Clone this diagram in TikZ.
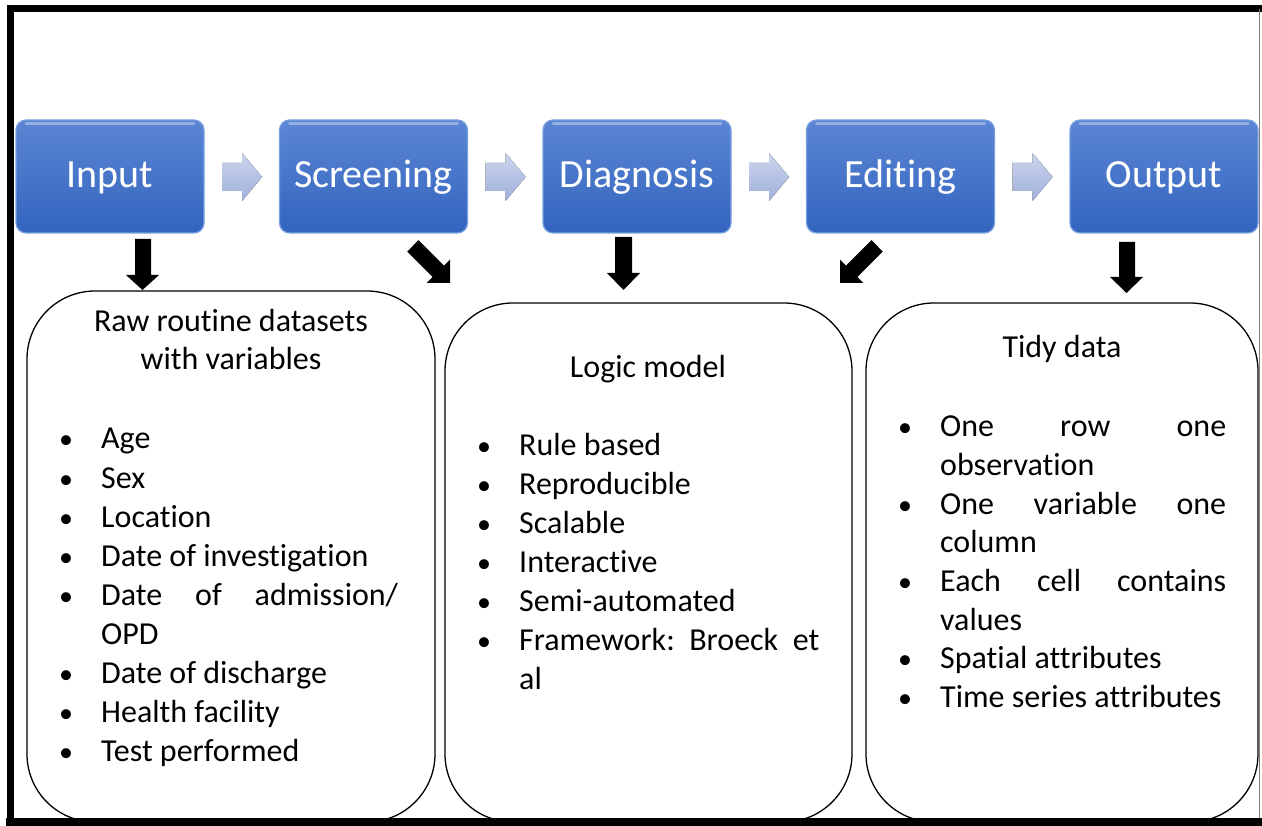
\documentclass[tikz,border=0pt]{standalone}
\usepackage{fontspec}
\setmainfont{Carlito}[Ligatures={NoCommon}]
\frenchspacing
\begin{document}
\begin{tikzpicture}[x=1pt,y=-1pt,
  stage/.style={rounded corners=10pt, top color=stagetop, bottom color=stagebot, draw=stageedge, line width=1.2pt},
  stagetext/.style={text=white, font=\fontsize{40}{48}\selectfont, anchor=base},
  chev/.style={top color=chevtop, bottom color=chevbot, draw=none},
  blk/.style={fill=black},
  panel/.style={draw=black, line width=1.3pt, rounded corners=68pt, fill=white},
  ttl/.style={font=\fontsize{32}{39}\selectfont, anchor=base, inner sep=0pt},
  btxt/.style={font=\fontsize{32}{39}\selectfont, anchor=base west, inner sep=0pt},
  bul/.style={font=\fontsize{28}{39}\selectfont, anchor=base, inner sep=0pt}]
\definecolor{stagetop}{RGB}{92,134,212}
\definecolor{stagebot}{RGB}{50,100,190}
\definecolor{stageedge}{RGB}{120,160,225}
\definecolor{chevtop}{RGB}{205,213,236}
\definecolor{chevbot}{RGB}{160,176,220}
\useasboundingbox (0,0) rectangle (1262,826);
\fill[white] (0,0) rectangle (1262,826);

% frame
\draw[line width=7pt] (10,830) -- (10,9) -- (1266,9);
\draw[gray, line width=1.2pt] (1259.5,9) -- (1259.5,818);

% stage boxes
\foreach \i/\x/\t in {1/16/Input,2/279.5/Screening,3/543/Diagnosis,4/806.5/Editing,5/1070/Output}{
  \draw[stage] (\x,120) rectangle ++(188,113);
  \draw[white, opacity=0.35, line width=3pt, line cap=round] (\x+10,124) -- (\x+178,124);
  \node[stagetext] (s\i) at (\x+94,188) {\t};
}
% chevrons
\foreach \c in {242, 505.5, 769, 1032.5}{
  \fill[chev] (\c-20,163) -- (\c,163) -- (\c,153) -- (\c+20,177) -- (\c,201) -- (\c,191) -- (\c-20,191) -- cycle;
}

% panels
\draw[panel] (27,291) rectangle (435,822);
\draw[panel] (445,303) rectangle (852,822);
\draw[panel] (866,303) rectangle (1258,822);
\fill (6,818) rectangle (1266,830);

% black arrows
\fill[blk] (135,239) -- (151,239) -- (151,275) -- (159,275) -- (142.5,290) -- (126,275) -- (135,275) -- cycle;
\fill[blk] (615,237) -- (632,237) -- (632,273) -- (640,273) -- (623.5,290) -- (607,273) -- (615,273) -- cycle;
\fill[blk] (1119,242) -- (1135,242) -- (1135,277) -- (1143,277) -- (1126.5,293) -- (1110,277) -- (1119,277) -- cycle;
\fill[blk] (418.5,240.2) -- (444,265.7) -- (450,259.7) -- (450,283) -- (426.7,283) -- (432.7,277) -- (407.2,251.6) -- cycle;
\fill[blk] (871.5,240.2) -- (846,265.7) -- (840,259.7) -- (840,283) -- (863.3,283) -- (857.3,277) -- (882.8,251.6) -- cycle;

% panel 1
\node[ttl] (p1t1) at (231,332) {Raw routine datasets};
\node[ttl] (p1t2) at (231,370) {with variables};
\foreach \n/\t [count=\k from 0] in {1/Age,2/Sex,3/Location,4/Date of investigation,5/{\makebox[297pt][s]{Date of admission/}},6/OPD,7/Date of discharge,8/Health facility,9/Test performed}{
  \ifnum\n=6\else\node[bul] (p1b\n) at (66,449+39*\k) {\textbullet};\fi
  \node[btxt] (p1x\n) at (101,449+39*\k) {\t};
}

% panel 2
\node[ttl] (p2t) at (648,378) {Logic model};
\foreach \n/\t [count=\k from 0] in {1/Rule based,2/Reproducible,3/Scalable,4/Interactive,5/Semi-automated,6/{\makebox[300pt][s]{Framework: Broeck et}},7/al}{
  \ifnum\n=7\else\node[bul] (p2b\n) at (484,455+39*\k) {\textbullet};\fi
  \node[btxt] (p2x\n) at (519,455+39*\k) {\t};
}

% panel 3
\node[ttl] (p3t) at (1062,358) {Tidy data};
\foreach \n/\t/\b [count=\k from 0] in {1/{\makebox[286pt][s]{One row one}}/1,2/observation/0,3/{\makebox[286pt][s]{One variable one}}/1,4/column/0,5/{\makebox[286pt][s]{Each cell contains}}/1,6/values/0,7/Spatial attributes/1,8/Time series attributes/1}{
  \ifnum\b=1\node[bul] (p3b\n) at (905,437+38.6*\k) {\textbullet};\fi
  \node[btxt] (p3x\n) at (940,437+38.6*\k) {\t};
}
\end{tikzpicture}
\end{document}
